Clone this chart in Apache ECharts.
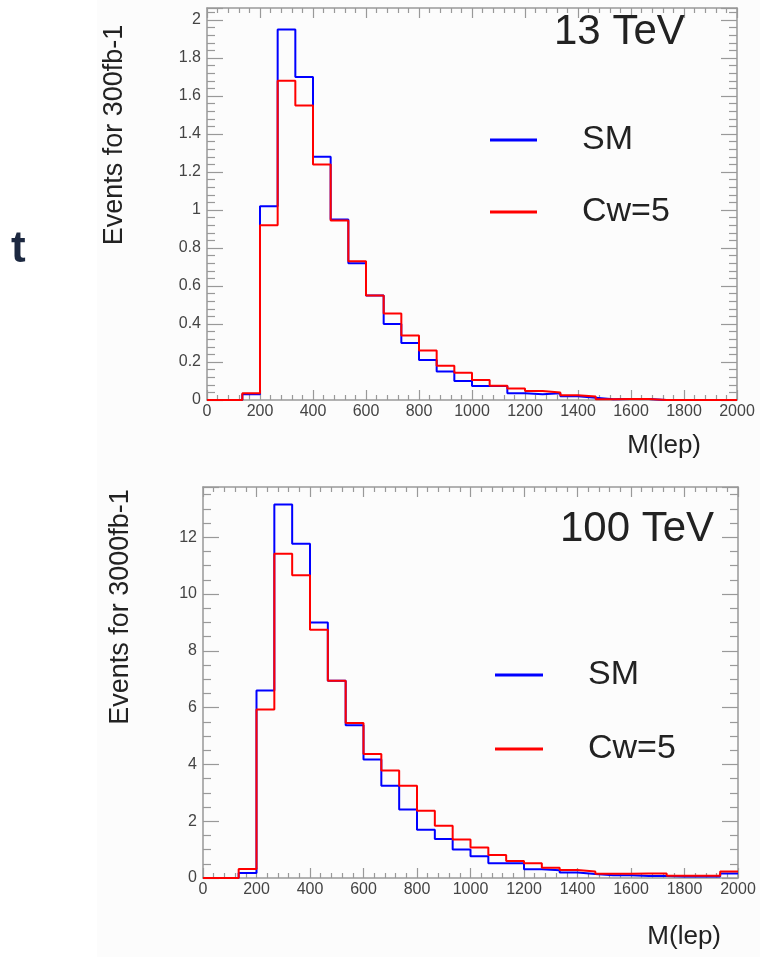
<!DOCTYPE html>
<html>
<head>
<meta charset="utf-8">
<script src="https://cdn.jsdelivr.net/npm/echarts@6/dist/echarts.min.js"></script>
<style>
  html, body { margin: 0; padding: 0; background: #fff; }
  #main { width: 760px; height: 957px; }
</style>
</head>
<body>
<div id="main"></div>
<script>
// histogram binning: 30 bins from 0 to 2000
var nBins = 30;
var xMin = 0;
var xMax = 2000;

// 13 TeV, events for 300 fb-1
var sm13 = [0, 0, 0.03, 1.02, 1.95, 1.70, 1.28, 0.95, 0.72, 0.55,
  0.40, 0.30, 0.21, 0.15, 0.10, 0.074, 0.074, 0.035, 0.03, 0.035,
  0.02, 0.012, 0.004, 0.005, 0.005, 0, 0, 0, 0, 0];
var cw13 = [0, 0, 0.035, 0.92, 1.68, 1.55, 1.24, 0.945, 0.73, 0.55,
  0.455, 0.34, 0.26, 0.18, 0.144, 0.105, 0.075, 0.061, 0.047, 0.039,
  0.025, 0.018, 0.004, 0.005, 0.005, 0, 0, 0, 0, 0];

// 100 TeV, events for 3000 fb-1
var sm100 = [0, 0, 0.18, 6.6, 13.15, 11.77, 9.0, 6.95, 5.38, 4.17,
  3.25, 2.41, 1.70, 1.37, 1.0, 0.77, 0.52, 0.52, 0.31, 0.27,
  0.19, 0.14, 0.10, 0.10, 0.07, 0.07, 0.05, 0.05, 0.05, 0.16];
var cw100 = [0, 0, 0.32, 5.93, 11.42, 10.66, 8.74, 6.95, 5.46, 4.37,
  3.79, 3.25, 2.37, 1.84, 1.36, 1.07, 0.81, 0.60, 0.52, 0.36,
  0.28, 0.23, 0.15, 0.15, 0.16, 0.16, 0.08, 0.08, 0.08, 0.23];

var binEdges = [];
for (var i = 0; i <= nBins; i++) binEdges.push(xMin + i * (xMax - xMin) / nBins);

// points at bin low edges, plus closing point at the last edge
function steps(vals) {
  var pts = vals.map(function(v, i) { return [binEdges[i], v]; });
  pts.push([binEdges[nBins], vals[nBins - 1]]);
  return pts;
}

var frame = "#999";
var font = "'Liberation Sans', Arial, sans-serif";

function xAx(grid, pos) {
  var labels = pos === "bottom";
  return {
    type: "value", gridIndex: grid, position: pos,
    min: xMin, max: xMax, interval: 200,
    axisLine: { show: true, onZero: false, lineStyle: { color: frame, width: 1.5 } },
    axisTick: { show: true, inside: true, length: 10, lineStyle: { color: frame, width: 1.2 } },
    minorTick: { show: true, splitNumber: 5, length: 5, lineStyle: { color: frame, width: 1.2 } },
    axisLabel: { show: labels, color: "#444", fontSize: 16, fontFamily: font, margin: 4,
      formatter: function(v) { return String(v); } },
    splitLine: { show: false }
  };
}
function yAx(grid, pos, max, interval, minorSplit) {
  var labels = pos === "left";
  return {
    type: "value", gridIndex: grid, position: pos,
    min: 0, max: max, interval: interval,
    axisLine: { show: true, onZero: false, lineStyle: { color: frame, width: 1.5 } },
    axisTick: { show: true, inside: true, length: 16, lineStyle: { color: frame, width: 1.2 } },
    minorTick: { show: true, splitNumber: minorSplit, length: 8, lineStyle: { color: frame, width: 1.2 } },
    axisLabel: { show: labels, color: "#444", fontSize: 16, fontFamily: font, margin: 6, showMaxLabel: false },
    splitLine: { show: false }
  };
}

function hist(name, data, color, xi, yi) {
  return {
    name: name, type: "line", step: "end", data: steps(data),
    xAxisIndex: xi, yAxisIndex: yi,
    symbol: "none", silent: true,
    lineStyle: { color: color, width: 2 },
    itemStyle: { color: color }
  };
}

function legendAt(left, top, gap, w) {
  return {
    left: left, top: top, orient: "vertical", padding: 0,
    icon: "rect", itemWidth: w, itemHeight: 3, itemGap: gap,
    textStyle: { fontSize: 34, fontFamily: font, color: "#222", padding: [0, 0, 0, 40] },
    data: ["SM", "Cw=5"]
  };
}

var myChart = echarts.init(document.getElementById("main"), null, { renderer: "canvas" });
var option = {
  animation: false,
  backgroundColor: "#fff",
  grid: [
    { left: 207, top: 8, width: 530, height: 392 },
    { left: 203, top: 487, width: 535, height: 391 }
  ],
  xAxis: [xAx(0, "bottom"), xAx(0, "top"), xAx(1, "bottom"), xAx(1, "top")],
  yAxis: [
    yAx(0, "left", 2.063, 0.2, 5), yAx(0, "right", 2.063, 0.2, 5),
    yAx(1, "left", 13.77, 2, 4), yAx(1, "right", 13.77, 2, 4)
  ],
  legend: [legendAt(490, 123, 38, 47), legendAt(495, 658, 40, 48)],
  title: [
    { text: "13 TeV", left: 554, top: 11, padding: 0,
      textStyle: { fontSize: 42, fontWeight: "normal", fontFamily: font, color: "#222" } },
    { text: "100 TeV", left: 560, top: 508, padding: 0,
      textStyle: { fontSize: 42, fontWeight: "normal", fontFamily: font, color: "#222" } }
  ],
  graphic: [
    { type: "rect", z: -10, shape: { x: 97, y: 0, width: 663, height: 957 }, style: { fill: "#fcfcfc" }, silent: true },
    { type: "text", x: 11, y: 250, style: { text: "t", font: "bold 44px " + font, fill: "#1c2840", verticalAlign: "middle" } },
    { type: "text", x: 115, y: 135, rotation: Math.PI / 2,
      style: { text: "Events for 300fb-1", font: "27px " + font, fill: "#222", align: "center", verticalAlign: "middle" } },
    { type: "text", x: 121, y: 607, rotation: Math.PI / 2,
      style: { text: "Events for 3000fb-1", font: "27px " + font, fill: "#222", align: "center", verticalAlign: "middle" } },
    { type: "text", x: 701, y: 446,
      style: { text: "M(lep)", font: "26px " + font, fill: "#222", align: "right", verticalAlign: "middle" } },
    { type: "text", x: 721, y: 937,
      style: { text: "M(lep)", font: "26px " + font, fill: "#222", align: "right", verticalAlign: "middle" } }
  ],
  series: [
    hist("SM", sm13, "#0000ff", 0, 0),
    hist("Cw=5", cw13, "#ff0000", 0, 0),
    hist("SM", sm100, "#0000ff", 2, 2),
    hist("Cw=5", cw100, "#ff0000", 2, 2)
  ]
};
myChart.setOption(option);
</script>
</body>
</html>
